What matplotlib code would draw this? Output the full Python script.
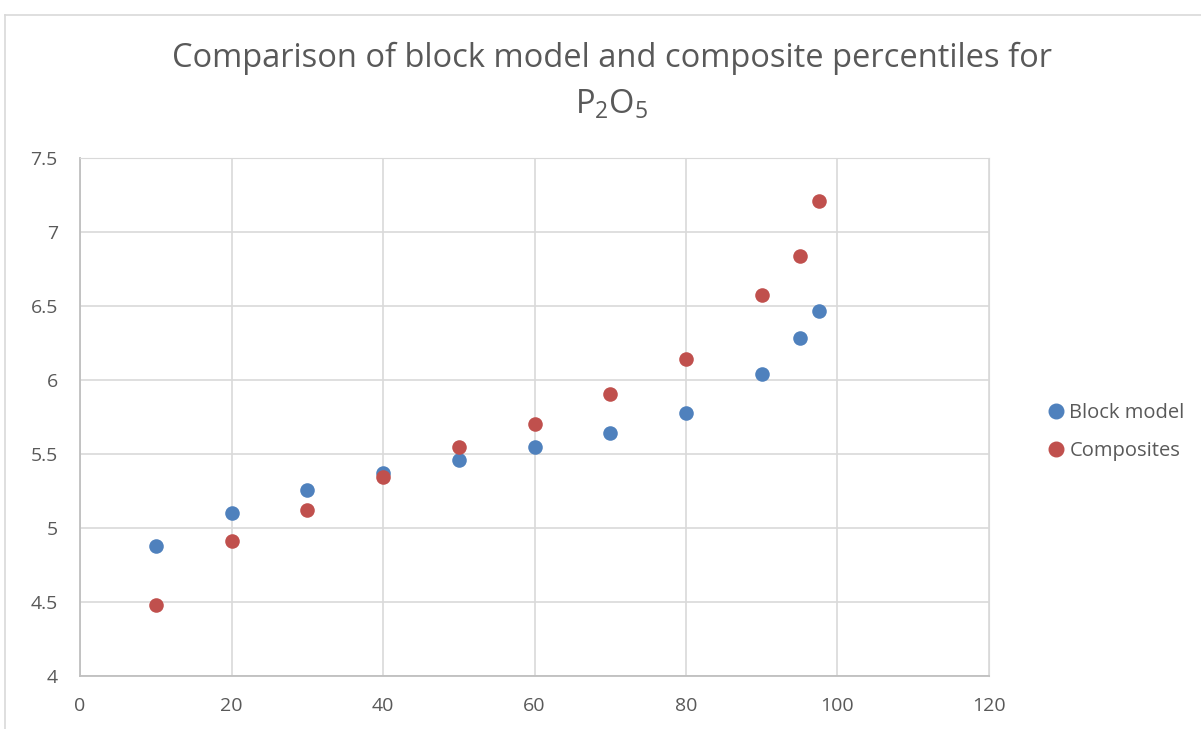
import matplotlib.pyplot as plt
from matplotlib.lines import Line2D

# Percentis
percentis = [10, 20, 30, 40, 50, 60, 70, 80, 90, 95, 97.5]
block_model = [4.88, 5.10, 5.255, 5.37, 5.46, 5.545, 5.64, 5.777, 6.04, 6.285, 6.467]
composites = [4.48, 4.91, 5.12, 5.345, 5.547, 5.70, 5.905, 6.142, 6.577, 6.84, 7.21]

cor_bm = '#4F81BD'
cor_comp = '#C0504D'
cor_texto = '#595959'

plt.rcParams['font.family'] = ['Open Sans', 'DejaVu Sans']
plt.rcParams['mathtext.fontset'] = 'custom'
plt.rcParams['mathtext.rm'] = 'Open Sans'

fig = plt.figure(figsize=(12.01, 7.29), dpi=100)
ax = fig.add_axes([80 / 1201, 1 - 676 / 729, (989 - 80) / 1201, (676 - 158) / 729])

ax.scatter(percentis, block_model, s=110, color=cor_bm, label='Block model', zorder=3, linewidths=0)
ax.scatter(percentis, composites, s=110, color=cor_comp, label='Composites', zorder=3, linewidths=0)

ax.set_xlim(0, 120)
ax.set_ylim(4, 7.5)
ax.set_xticks(range(0, 121, 20))
ax.set_yticks([4, 4.5, 5, 5.5, 6, 6.5, 7, 7.5])
ax.set_yticklabels(['4', '4.5', '5', '5.5', '6', '6.5', '7', '7.5'])
ax.grid(True, color='#D9D9D9', linewidth=1.2)
ax.set_axisbelow(True)
for lado in ['top', 'right']:
    ax.spines[lado].set_color('#D9D9D9')
for lado in ['left', 'bottom']:
    ax.spines[lado].set_color('#BFBFBF')
    ax.spines[lado].set_linewidth(1.3)
ax.tick_params(length=0, labelsize=14, colors=cor_texto)
ax.tick_params(axis='y', pad=16)
ax.tick_params(axis='x', pad=15)

fig.text(612 / 1201, 1 - 58 / 729, 'Comparison of block model and composite percentiles for',
         ha='center', va='center', fontsize=23.5, color=cor_texto)
fig.text(612 / 1201, 1 - 104 / 729, r'P$_\mathrm{2}$O$_\mathrm{5}$',
         ha='center', va='center', fontsize=23.5, color=cor_texto)

# Legenda
handles = [Line2D([], [], marker='o', linestyle='', color=cor_bm, markersize=10.5),
           Line2D([], [], marker='o', linestyle='', color=cor_comp, markersize=10.5)]
fig.legend(handles, ['Block model', 'Composites'], loc='center left',
           bbox_to_anchor=(1026 / 1201, 1 - 432 / 729), frameon=False,
           fontsize=14.5, labelcolor=cor_texto, handletextpad=0.05, labelspacing=0.9,
           handlelength=1.2)

# Borda do gráfico
fig.add_artist(Line2D([5 / 1201, 5 / 1201], [0, 1 - 15 / 729], color='#D9D9D9', linewidth=1.2))
fig.add_artist(Line2D([5 / 1201, 1], [1 - 15 / 729, 1 - 15 / 729], color='#D9D9D9', linewidth=1.2))

fig.savefig('out.png', dpi=100)
